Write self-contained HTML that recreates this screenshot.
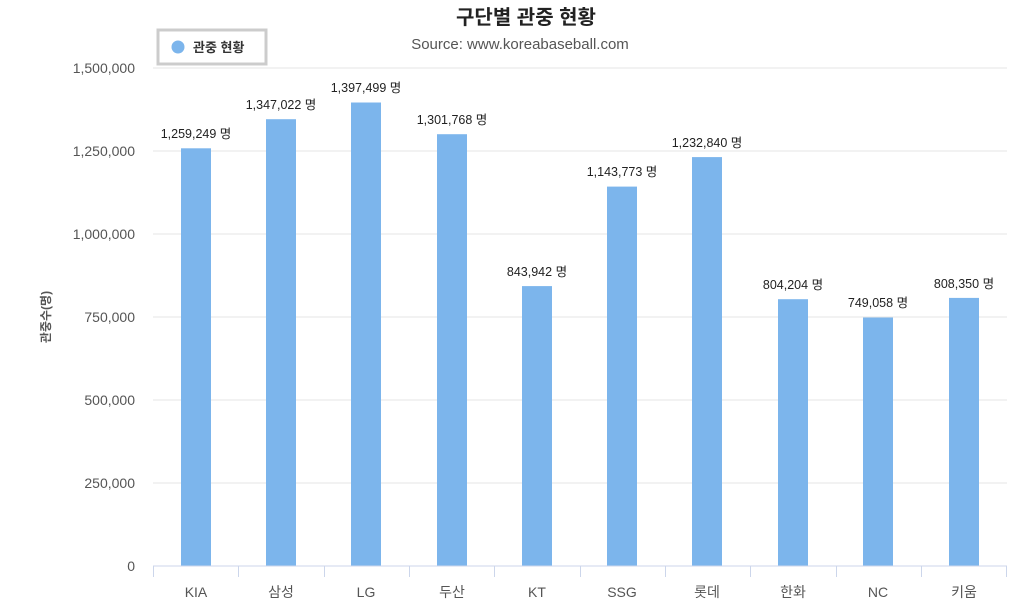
<!DOCTYPE html>
<html><head><meta charset="utf-8"><style>
body{margin:0;background:#fff;}
text{font-family:"Liberation Sans","Noto Sans CJK KR",sans-serif;}
</style></head><body>
<svg width="1023" height="606" xmlns="http://www.w3.org/2000/svg">
<rect width="1023" height="606" fill="#fff"/>
<text x="526" y="24" font-size="20" font-weight="bold" text-anchor="middle" fill="#222">구단별 관중 현황</text>
<text x="520" y="49" font-size="15" text-anchor="middle" fill="#555">Source: www.koreabaseball.com</text>
<rect x="158" y="30" width="108" height="34" fill="#fff" stroke="#ccc" stroke-width="3"/>
<circle cx="178" cy="47" r="6.5" fill="#7cb5ec"/>
<text x="193" y="52" font-size="13" font-weight="bold" fill="#333">관중 현황</text>
<g stroke="#e6e6e6" stroke-width="1">
<line x1="153" x2="1007" y1="68" y2="68"/>
<line x1="153" x2="1007" y1="151" y2="151"/>
<line x1="153" x2="1007" y1="234" y2="234"/>
<line x1="153" x2="1007" y1="317" y2="317"/>
<line x1="153" x2="1007" y1="400" y2="400"/>
<line x1="153" x2="1007" y1="483" y2="483"/>
</g>
<g font-size="14" fill="#555" text-anchor="end">
<text x="135" y="73">1,500,000</text>
<text x="135" y="156">1,250,000</text>
<text x="135" y="239">1,000,000</text>
<text x="135" y="322">750,000</text>
<text x="135" y="405">500,000</text>
<text x="135" y="488">250,000</text>
<text x="135" y="571">0</text>
</g>
<text transform="translate(50,317) rotate(-90)" font-size="12" fill="#555" text-anchor="middle" font-weight="bold">관중수(명)</text>
<g fill="#7cb5ec">
<rect x="181" y="148.3" width="30" height="417.7"/>
<rect x="266" y="119.2" width="30" height="446.8"/>
<rect x="351" y="102.5" width="30" height="463.5"/>
<rect x="437" y="134.2" width="30" height="431.8"/>
<rect x="522" y="286.1" width="30" height="279.9"/>
<rect x="607" y="186.6" width="30" height="379.4"/>
<rect x="692" y="157.1" width="30" height="408.9"/>
<rect x="778" y="299.2" width="30" height="266.8"/>
<rect x="863" y="317.5" width="30" height="248.5"/>
<rect x="949" y="297.9" width="30" height="268.1"/>
</g>
<g stroke="#ccd6eb" stroke-width="1">
<line x1="153" x2="1007" y1="566" y2="566"/>
<line x1="153.5" x2="153.5" y1="566" y2="577"/>
<line x1="238.5" x2="238.5" y1="566" y2="577"/>
<line x1="324.5" x2="324.5" y1="566" y2="577"/>
<line x1="409.5" x2="409.5" y1="566" y2="577"/>
<line x1="494.5" x2="494.5" y1="566" y2="577"/>
<line x1="580.5" x2="580.5" y1="566" y2="577"/>
<line x1="665.5" x2="665.5" y1="566" y2="577"/>
<line x1="750.5" x2="750.5" y1="566" y2="577"/>
<line x1="836.5" x2="836.5" y1="566" y2="577"/>
<line x1="921.5" x2="921.5" y1="566" y2="577"/>
<line x1="1006.5" x2="1006.5" y1="566" y2="577"/>
</g>
<g font-size="14" fill="#555" text-anchor="middle">
<text x="196" y="597">KIA</text><text x="281" y="597">삼성</text><text x="366" y="597">LG</text>
<text x="452" y="597">두산</text><text x="537" y="597">KT</text><text x="622" y="597">SSG</text>
<text x="707" y="597">롯데</text><text x="793" y="597">한화</text><text x="878" y="597">NC</text>
<text x="964" y="597">키움</text>
</g>
<g font-size="12.5" fill="#222" text-anchor="middle">
<text x="196" y="138">1,259,249 명</text>
<text x="281" y="109">1,347,022 명</text>
<text x="366" y="92">1,397,499 명</text>
<text x="452" y="124">1,301,768 명</text>
<text x="537" y="276">843,942 명</text>
<text x="622" y="176">1,143,773 명</text>
<text x="707" y="147">1,232,840 명</text>
<text x="793" y="289">804,204 명</text>
<text x="878" y="307">749,058 명</text>
<text x="964" y="288">808,350 명</text>
</g>
</svg>
</body></html>
